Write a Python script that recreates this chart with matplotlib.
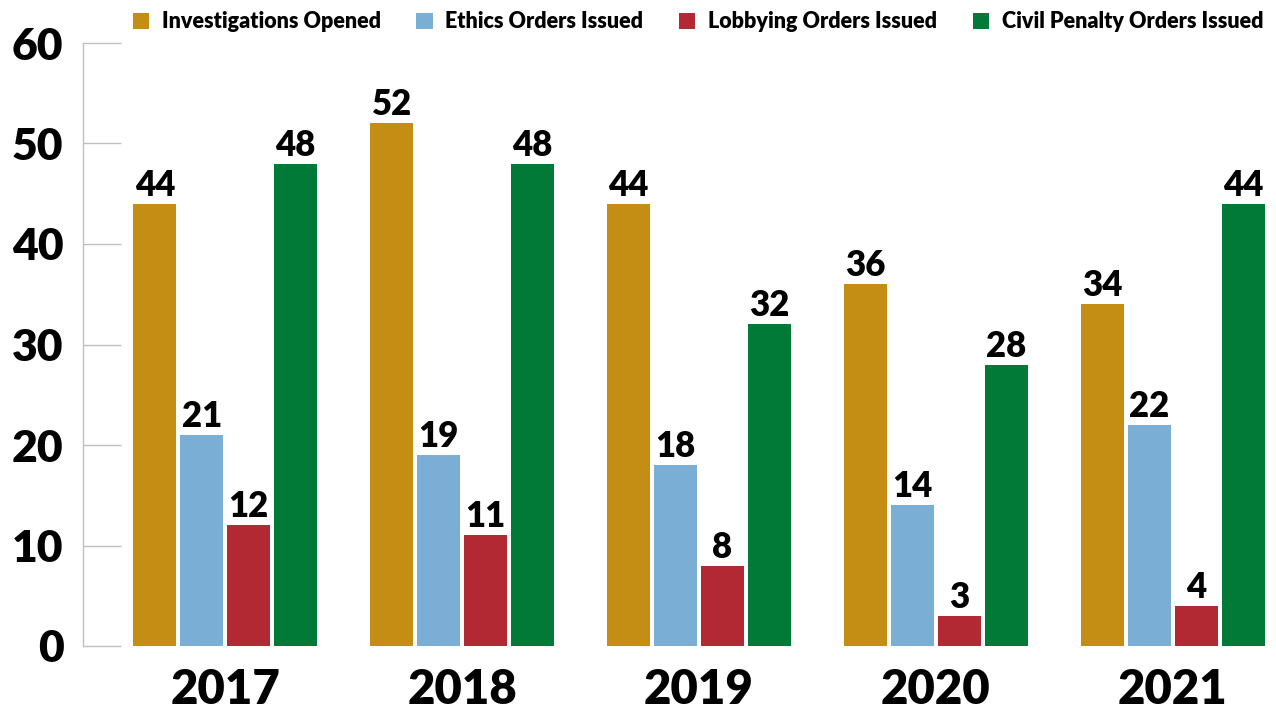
import matplotlib
matplotlib.use("Agg")
import matplotlib.pyplot as plt
import numpy as np
from matplotlib.patches import Patch

years = ["2017", "2018", "2019", "2020", "2021"]
series_names = ["Investigations Opened", "Ethics Orders Issued",
                "Lobbying Orders Issued", "Civil Penalty Orders Issued"]
investigations = [44, 52, 44, 36, 34]
ethics = [21, 19, 18, 14, 22]
lobbying = [12, 11, 8, 3, 4]
civil = [48, 48, 32, 28, 44]
colors = ["#C48E14", "#7BAED4", "#B22833", "#017A38"]

plt.rcParams['font.family'] = ['Lato', 'DejaVu Sans']
W = 'heavy'
fig = plt.figure(figsize=(12.76, 7.19), dpi=100)
ax = fig.add_axes([83/1276, (719-646)/719, (1270-83)/1276, (646-43)/719])

x = np.arange(len(years))
width = 0.181
step = 0.198
data = [investigations, ethics, lobbying, civil]
for i, (vals, c) in enumerate(zip(data, colors)):
    pos = x + (i - 1.5) * step
    bars = ax.bar(pos, vals, width=width, color=c, zorder=2)
    for b, v in zip(bars, vals):
        ax.text(b.get_x() + b.get_width()/2, v + 0.2, str(v), ha='center', va='bottom',
                fontsize=25, fontweight=W, color='black')

ax.set_ylim(0, 60)
ax.set_xlim(-0.6, 4.41)
ax.set_yticks(range(0, 61, 10))
ax.set_xticks(x)
ax.set_xticklabels(years)
for s in ['top', 'right', 'bottom']:
    ax.spines[s].set_visible(False)
ax.spines['left'].set_color('#BFBFBF')
ax.spines['left'].set_linewidth(1)
ax.tick_params(axis='y', direction='in', length=27, color='#BFBFBF', width=1,
               labelsize=32, pad=14)
ax.tick_params(axis='x', length=0, labelsize=34, pad=16)
for lbl in ax.get_yticklabels() + ax.get_xticklabels():
    lbl.set_fontweight(W)

handles = [Patch(facecolor=c, edgecolor='none') for c in colors]
fig.legend(handles, series_names, loc='center', bbox_to_anchor=(698/1276, 1 - 22/719),
           ncol=4, frameon=False, prop={'size': 15.5, 'weight': W},
           handlelength=0.75, handleheight=0.75, handletextpad=0.6, columnspacing=1.65)

fig.savefig("out.png", dpi=100)
